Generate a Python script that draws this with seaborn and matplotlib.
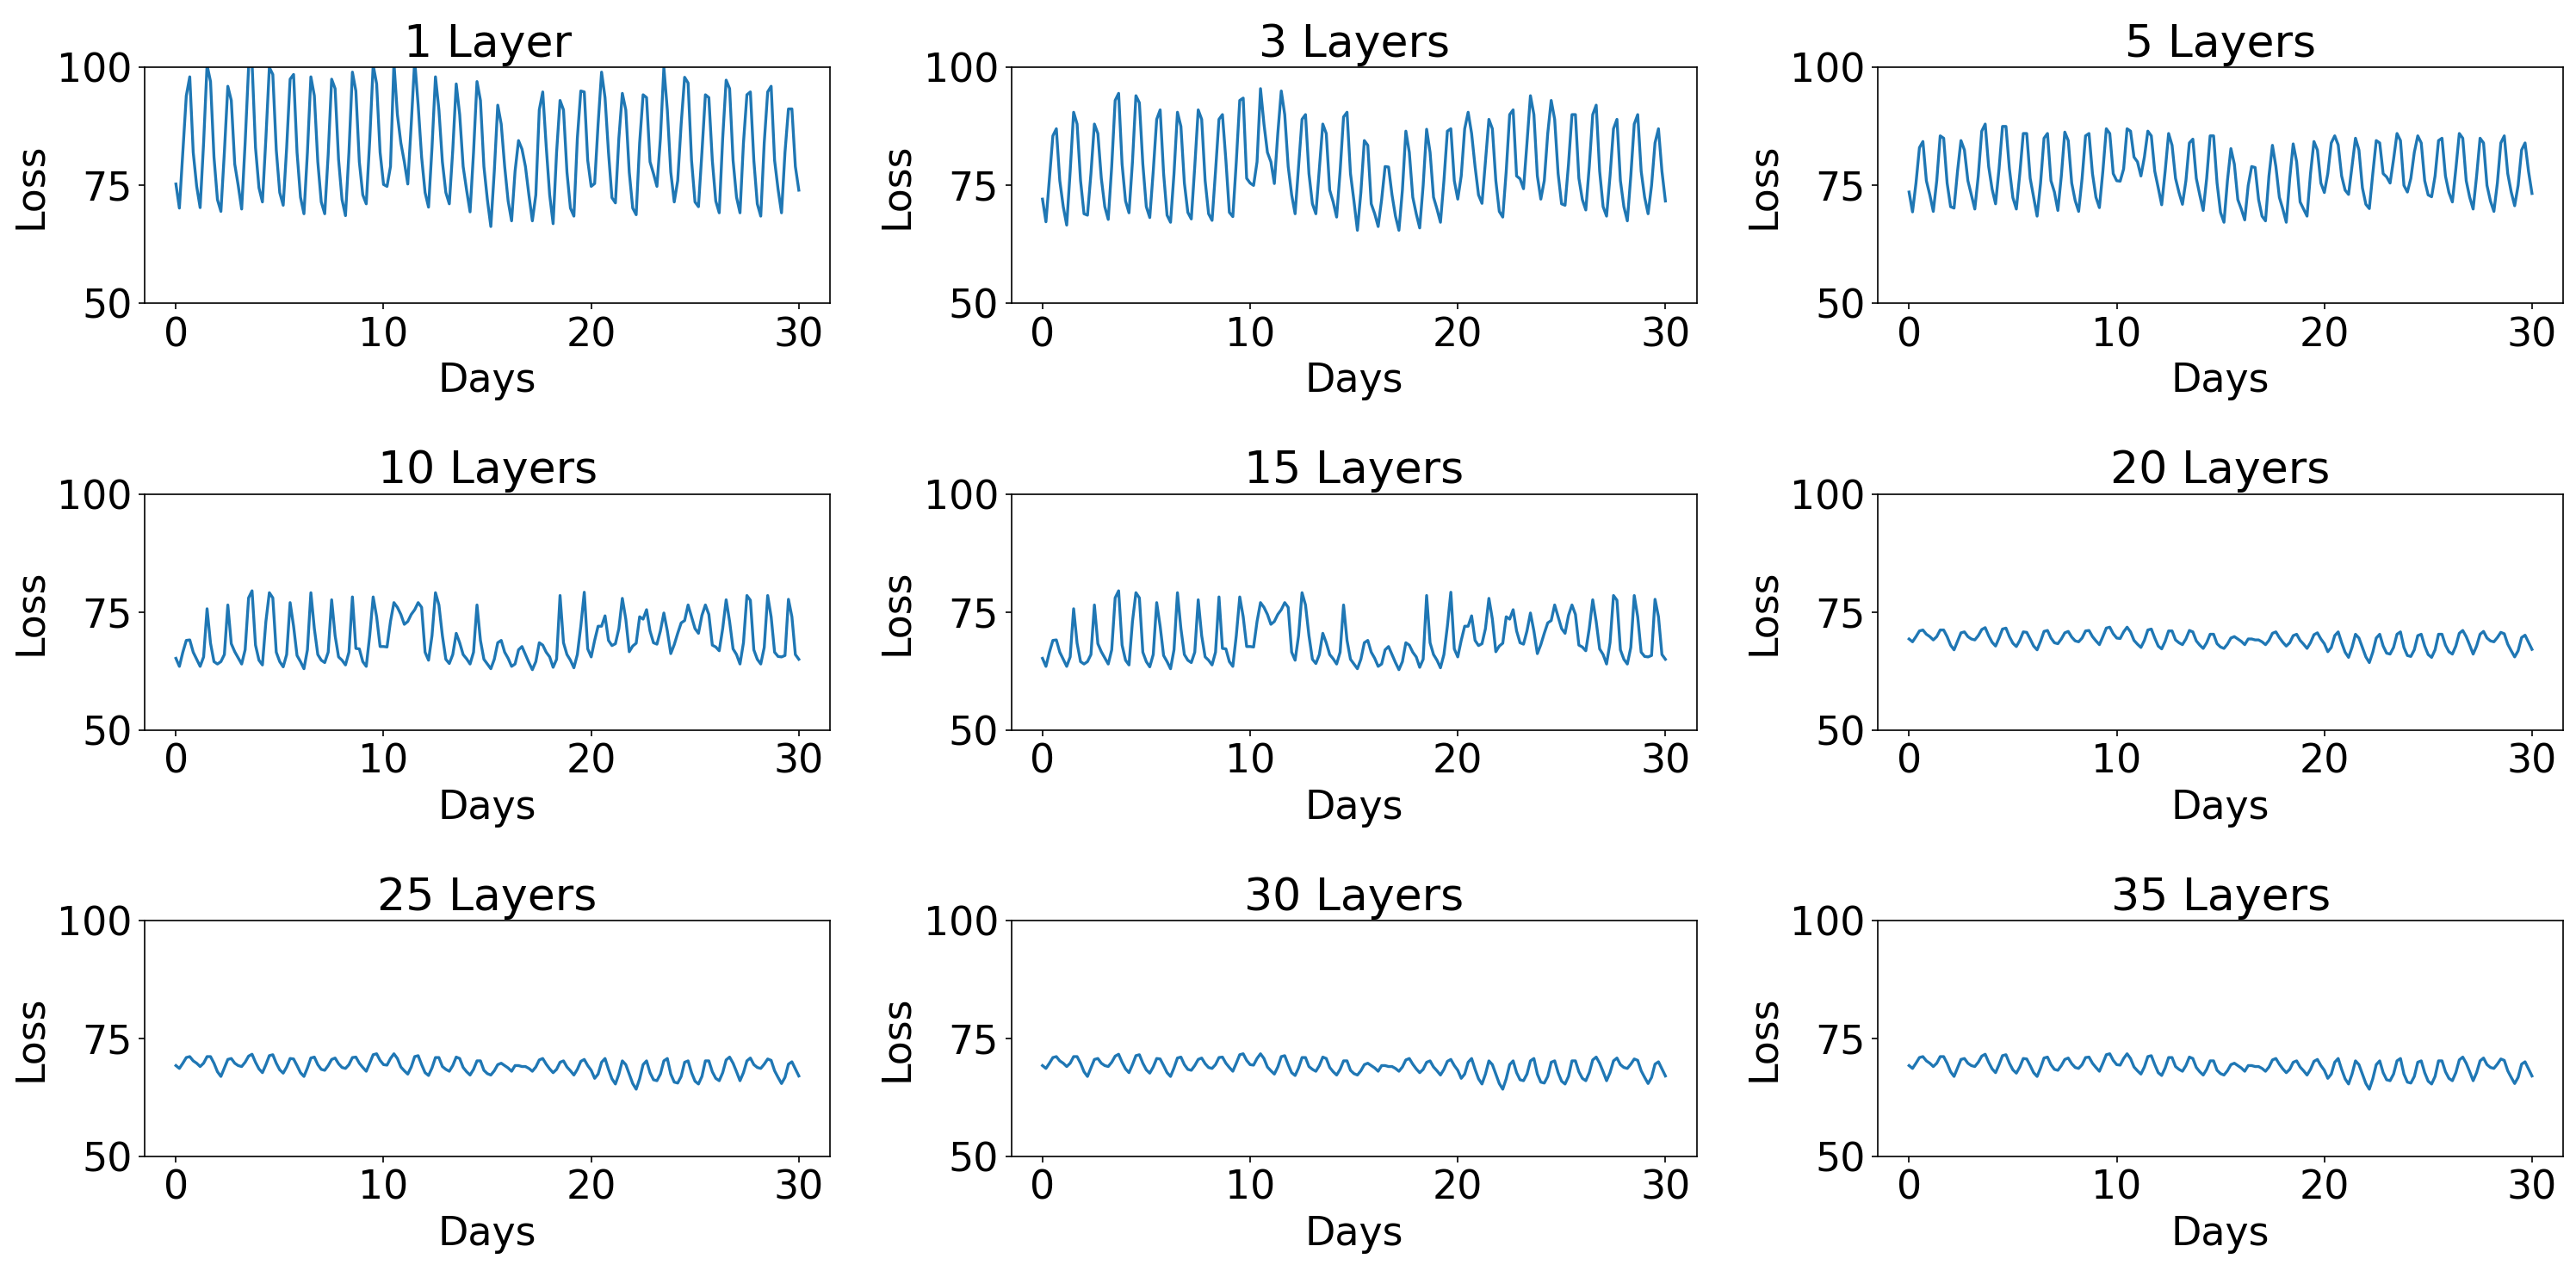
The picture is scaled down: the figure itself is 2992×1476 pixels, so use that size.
import numpy as np
import matplotlib
matplotlib.use("Agg")
import matplotlib.pyplot as plt
import seaborn as sns

# 4-hourly samples over 30 days (6 per day)
days = np.linspace(0, 30, 181)

loss_1 = [
    75.3, 70.2, 82.0, 94.0, 98.0, 82.0,
    74.8, 70.3, 84.0, 100.5, 97.0, 81.0,
    72.0, 69.5, 82.0, 96.0, 93.0, 79.5,
    75.0, 70.0, 84.0, 100.0, 101.0, 83.0,
    74.5, 71.5, 85.0, 100.0, 98.5, 82.5,
    73.5, 70.8, 83.0, 97.5, 98.5, 82.0,
    72.5, 69.0, 82.0, 98.0, 94.0, 80.0,
    71.5, 69.0, 81.5, 97.5, 95.5, 80.5,
    72.0, 68.6, 82.0, 99.0, 95.0, 80.0,
    73.0, 71.1, 84.5, 100.5, 96.5, 82.0,
    75.2, 74.8, 79.0, 101.0, 90.0, 84.0,
    80.0, 75.3, 88.0, 101.5, 92.0, 81.0,
    73.5, 70.4, 83.0, 98.0, 91.0, 80.0,
    73.5, 71.1, 82.5, 96.5, 90.0, 79.0,
    74.0, 69.4, 82.0, 97.0, 93.0, 79.0,
    72.0, 66.3, 78.0, 92.0, 88.0, 79.0,
    71.7, 67.5, 78.0, 84.5, 82.7, 79.0,
    73.0, 67.5, 73.0, 91.0, 94.8, 83.3,
    73.0, 66.9, 82.0, 93.0, 91.0, 77.8,
    70.2, 68.5, 85.0, 95.0, 94.8, 80.3,
    74.8, 75.4, 88.0, 99.0, 93.6, 82.0,
    72.4, 71.3, 85.0, 94.5, 91.0, 77.8,
    70.2, 68.8, 84.0, 94.2, 93.6, 80.0,
    77.5, 74.8, 85.0, 100.0, 91.0, 77.8,
    71.5, 76.0, 88.0, 97.9, 96.7, 80.3,
    71.5, 70.5, 82.0, 94.2, 93.6, 80.3,
    71.7, 69.2, 85.0, 97.3, 95.5, 80.3,
    72.5, 69.2, 84.0, 94.2, 94.8, 80.3,
    71.1, 68.5, 84.0, 94.8, 96.0, 80.3,
    74.2, 69.2, 82.0, 91.2, 91.2, 79.0,
    74.0,
]

loss_3 = [
    72.1, 67.3, 76.5, 85.5, 87.0, 76.0,
    70.5, 66.6, 78.0, 90.5, 88.0, 76.0,
    69.0, 68.7, 77.5, 88.0, 86.0, 76.5,
    70.5, 67.8, 79.0, 93.0, 94.5, 79.5,
    71.7, 69.2, 80.0, 94.0, 92.5, 79.5,
    70.5, 68.2, 78.0, 89.0, 91.0, 77.5,
    68.7, 67.2, 77.5, 90.5, 87.5, 75.5,
    69.3, 67.9, 79.0, 91.0, 89.0, 76.0,
    69.0, 67.6, 78.0, 89.0, 90.0, 80.3,
    69.3, 68.4, 80.0, 93.0, 93.5, 76.5,
    75.5, 75.0, 80.0, 95.5, 88.0, 82.0,
    80.0, 75.4, 86.0, 95.0, 90.0, 79.0,
    73.0, 69.0, 79.0, 89.0, 90.0, 77.5,
    71.1, 69.0, 78.5, 88.0, 86.0, 74.0,
    71.5, 68.3, 78.0, 89.5, 90.5, 77.5,
    71.7, 65.5, 73.5, 84.5, 83.5, 71.1,
    69.0, 66.3, 72.0, 79.0, 78.9, 73.0,
    68.5, 65.5, 74.0, 86.5, 82.0, 72.5,
    69.0, 66.0, 75.0, 86.9, 82.0, 72.5,
    70.0, 67.2, 76.0, 86.5, 87.0, 76.0,
    72.1, 77.0, 87.0, 90.5, 86.0, 79.0,
    73.0, 71.2, 80.0, 89.0, 87.0, 76.0,
    69.5, 68.3, 78.0, 90.0, 91.0, 77.0,
    76.4, 74.3, 84.0, 94.0, 90.0, 77.0,
    72.1, 76.0, 86.0, 93.0, 89.0, 77.5,
    71.1, 70.8, 79.5, 90.0, 90.0, 76.5,
    72.0, 69.8, 79.0, 90.0, 92.0, 78.0,
    70.5, 68.5, 77.0, 87.0, 89.0, 76.0,
    70.5, 67.5, 77.0, 88.0, 90.0, 78.0,
    72.5, 69.0, 75.0, 84.0, 87.0, 78.0,
    71.7,
]

loss_5 = [
    73.6, 69.4, 75.5, 83.0, 84.3, 76.0,
    73.0, 69.5, 76.0, 85.5, 85.0, 75.5,
    70.5, 70.2, 78.0, 84.5, 82.5, 76.0,
    73.0, 70.0, 77.0, 86.5, 88.0, 79.0,
    74.2, 71.1, 78.5, 87.5, 87.5, 78.5,
    72.4, 70.0, 77.5, 86.0, 86.0, 76.5,
    72.5, 68.5, 75.5, 85.0, 86.0, 76.0,
    73.6, 69.7, 77.0, 86.3, 84.5, 75.5,
    71.8, 69.5, 76.5, 85.5, 86.0, 77.5,
    72.5, 70.3, 78.0, 87.0, 86.0, 77.5,
    76.0, 75.9, 78.5, 87.0, 86.5, 81.0,
    80.0, 77.0, 81.0, 86.5, 85.5, 78.0,
    74.5, 70.9, 78.0, 86.0, 83.5, 76.5,
    73.5, 71.0, 76.0, 84.0, 84.8, 76.5,
    73.0, 69.7, 76.5, 85.5, 85.5, 75.5,
    69.3, 67.2, 76.0, 82.8, 79.5, 72.0,
    70.0, 67.7, 75.0, 79.0, 78.8, 72.0,
    68.5, 67.5, 77.0, 83.5, 79.0, 72.5,
    70.0, 67.2, 76.5, 83.8, 80.0, 71.5,
    70.0, 68.5, 77.5, 84.3, 82.5, 75.5,
    73.5, 77.5, 84.0, 85.5, 83.6, 77.0,
    74.0, 73.1, 79.0, 85.0, 82.5, 74.5,
    71.0, 70.1, 77.5, 84.5, 84.0, 77.5,
    76.8, 75.5, 80.5, 86.0, 84.5, 75.0,
    73.6, 76.5, 82.0, 85.5, 84.0, 76.0,
    73.0, 72.6, 77.0, 84.5, 85.0, 77.0,
    73.5, 71.5, 78.5, 86.0, 85.0, 76.0,
    72.5, 70.0, 77.0, 85.0, 84.0, 75.0,
    71.7, 69.5, 75.5, 84.0, 85.5, 77.5,
    73.6, 70.7, 75.0, 82.5, 84.0, 78.0,
    73.3,
]

# 10 and 15 layers look identical in the reference
loss_10 = [
    65.2, 63.5, 66.5, 69.0, 69.1, 66.5,
    65.0, 63.5, 65.5, 75.7, 68.4, 64.5,
    64.0, 64.5, 66.0, 76.5, 68.3, 66.6,
    65.3, 64.0, 67.0, 78.0, 79.5, 68.0,
    64.8, 63.8, 73.0, 79.1, 78.0, 66.5,
    64.5, 63.4, 66.0, 77.0, 72.0, 65.8,
    64.5, 63.0, 67.0, 79.1, 71.5, 66.0,
    64.8, 64.3, 66.5, 77.6, 70.0, 65.5,
    64.8, 63.8, 66.5, 78.2, 67.3, 67.2,
    64.5, 63.5, 70.0, 78.2, 74.0, 67.7,
    67.7, 67.6, 73.0, 77.0, 76.0, 74.5,
    72.4, 73.0, 74.5, 75.5, 77.0, 76.0,
    66.5, 64.8, 70.0, 79.1, 76.5, 70.0,
    65.0, 64.1, 66.0, 70.5, 68.5, 66.0,
    65.1, 64.0, 66.5, 76.5, 69.0, 65.0,
    64.0, 63.0, 65.0, 68.5, 69.0, 66.5,
    65.2, 63.5, 64.0, 67.0, 67.7, 66.0,
    64.3, 62.8, 64.5, 68.5, 68.0, 66.5,
    65.5, 63.3, 65.0, 78.5, 68.5, 66.0,
    64.8, 63.2, 66.0, 72.0, 79.2, 67.2,
    65.5, 69.0, 72.0, 72.0, 74.2, 69.0,
    67.9, 68.3, 71.5, 77.9, 73.5, 66.6,
    67.8, 68.4, 74.0, 73.5, 75.5, 71.0,
    68.5, 68.2, 71.0, 74.8, 71.0, 66.2,
    68.1, 70.5, 72.7, 73.2, 76.5, 74.0,
    71.5, 70.5, 74.3, 76.5, 74.5, 68.0,
    67.6, 66.8, 71.5, 77.6, 73.0, 67.2,
    66.0, 64.0, 68.5, 78.5, 77.5, 67.0,
    65.0, 64.0, 67.5, 78.5, 74.0, 66.5,
    65.6, 65.5, 65.8, 77.7, 74.0, 66.0,
    65.0,
]
loss_15 = loss_10

# 20, 25, 30 and 35 layers look identical in the reference
loss_20 = [
    69.3, 68.7, 69.8, 71.0, 71.2, 70.3,
    69.8, 69.1, 69.8, 71.2, 71.2, 69.8,
    68.0, 67.0, 68.8, 70.6, 70.8, 69.8,
    69.3, 69.1, 70.0, 71.3, 71.7, 70.0,
    68.6, 67.8, 69.5, 71.4, 71.6, 69.8,
    68.4, 67.7, 69.0, 70.8, 70.7, 69.3,
    67.8, 67.0, 68.8, 70.9, 71.1, 69.5,
    68.5, 68.3, 69.3, 70.6, 70.9, 69.7,
    68.9, 68.7, 69.5, 71.0, 71.1, 69.8,
    68.9, 68.1, 69.8, 71.6, 71.8, 70.4,
    69.5, 69.4, 70.8, 71.8, 70.8, 69.0,
    68.2, 67.5, 69.0, 71.2, 71.4, 69.5,
    67.8, 67.2, 68.8, 71.0, 71.0, 69.1,
    68.5, 68.1, 69.3, 71.1, 70.8, 68.9,
    68.0, 67.3, 68.5, 70.3, 70.3, 68.3,
    67.6, 67.3, 68.2, 69.5, 69.8, 69.3,
    68.8, 68.1, 69.3, 69.3, 69.1, 69.1,
    68.7, 68.1, 69.0, 70.5, 70.8, 69.6,
    68.6, 67.8, 68.5, 70.0, 70.3, 69.0,
    68.2, 67.3, 68.5, 70.2, 70.6, 69.3,
    68.3, 66.6, 67.5, 70.0, 70.8, 68.5,
    66.5, 65.4, 67.5, 70.3, 69.5, 67.5,
    65.5, 64.3, 66.5, 69.5, 70.3, 67.8,
    66.3, 66.1, 67.5, 70.3, 70.8, 67.5,
    65.8, 65.6, 67.0, 70.0, 70.3, 67.8,
    66.0, 65.4, 67.0, 70.3, 70.3, 68.0,
    66.6, 66.1, 67.8, 70.5, 71.1, 69.8,
    68.0, 66.1, 67.8, 70.3, 70.9, 69.5,
    68.9, 68.7, 69.6, 70.7, 70.4, 68.2,
    66.8, 65.5, 66.8, 69.6, 70.1, 68.6,
    67.1,
]
loss_25 = loss_20
loss_30 = loss_20
loss_35 = loss_20

titles = ["1 Layer", "3 Layers", "5 Layers",
          "10 Layers", "15 Layers", "20 Layers",
          "25 Layers", "30 Layers", "35 Layers"]
series = [loss_1, loss_3, loss_5, loss_10, loss_15, loss_20,
          loss_25, loss_30, loss_35]

fig, axes = plt.subplots(3, 3, figsize=(2992 / 150, 1476 / 150), dpi=150)
fig.subplots_adjust(left=0.0562, right=0.995, bottom=0.0899, top=0.947,
                    wspace=0.2647, hspace=0.8065)

for ax, title, loss in zip(axes.flat, titles, series):
    sns.lineplot(x=days, y=np.array(loss), ax=ax, color="#1f77b4", linewidth=1.6)
    ax.set_ylim(50, 100)
    ax.set_yticks([50, 75, 100])
    ax.set_xticks([0, 10, 20, 30])
    ax.set_title(title, fontsize=25)
    ax.set_xlabel("Days", fontsize=22)
    ax.set_ylabel("Loss", fontsize=22)
    ax.tick_params(labelsize=22)

fig.savefig("out.png", dpi=150)
